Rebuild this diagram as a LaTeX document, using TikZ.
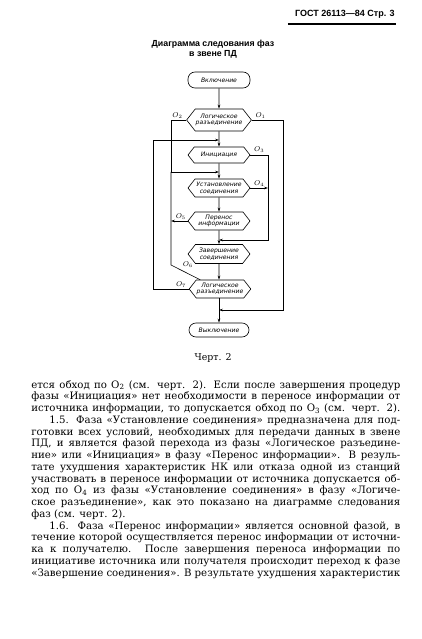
\documentclass[tikz,border=0pt]{standalone}
\usepackage{fontspec}
\setmainfont{DejaVu Serif}
\setsansfont{DejaVu Sans}
\newfontfamily\gostfont{Liberation Sans}
\usetikzlibrary{positioning,shapes.symbols,arrows.meta}

\newcommand{\dgfont}{\fontsize{6.1}{6.6}\selectfont\sffamily\itshape}
\newcommand{\jline}[1]{\makebox[369pt][s]{#1}}
\newcommand{\iline}[1]{\makebox[351pt][s]{#1}}

\tikzset{
  phase/.style={draw, signal, signal to=west and east, signal pointer angle=104,
    minimum width=62pt, inner sep=0.5pt, align=center, font=\dgfont},
  term/.style={draw, rectangle, rounded corners=7pt, minimum width=62pt,
    minimum height=16pt, inner sep=1pt, font=\dgfont},
  olabel/.style={font=\fontsize{7.4}{8}\selectfont, inner sep=0.5pt},
  bodyline/.style={anchor=base west, inner sep=0pt, font=\fontsize{10.2}{11.75}\selectfont},
  heading/.style={inner sep=0pt, font=\gostfont\bfseries\fontsize{8.8}{10}\selectfont},
}

\begin{document}
\begin{tikzpicture}[x=1pt, y=-1pt, line width=0.6pt, >={Stealth[length=4pt,width=2.6pt]}]
    \useasboundingbox (0,0) rectangle (422,639);

    % page head
    \node[heading, anchor=base east, font=\gostfont\bfseries\fontsize{9}{10}\selectfont] (gost) at (395,17) {ГОСТ 26113—84 Стр. 3};
    \draw[line width=1.5pt] ([xshift=-7pt,yshift=-7pt]gost.base west) -- ([xshift=1pt,yshift=-7pt]gost.base east);

    \node[heading] (title1) at (213,44) {Диаграмма следования фаз};
    \node[heading, below=2pt of title1] (title2) {в звене ПД};

    % phases
    \node[term] (vkl) at (219,80) {Включение};
    \node[phase, minimum height=22pt] (lr1) at (219,120) {Логическое\\разъединение};
    \node[phase, minimum height=16pt] (ini) at (219,155) {Инициация};
    \node[phase, minimum height=18pt] (ust) at (219,188) {Установление\\соединения};
    \node[phase, minimum height=18pt] (per) at (219,221) {Перенос\\информации};
    \node[phase, minimum height=19pt] (zav) at (219,254) {Завершение\\соединения};
    \node[phase, minimum height=18pt, minimum width=60pt] (lr2) at (220,289) {Логическое\\разъединение};
    \node[term, minimum height=14pt, minimum width=60pt] (vyk) at (219,330) {Выключение};

    \coordinate (j7) at (219,140);
    \coordinate (j2) at (219,172);
    \coordinate (j3) at (219,240);
    \coordinate (j1) at (219,310);
    \coordinate (xa) at (153,0);
    \coordinate (xb) at (171,0);
    \coordinate (xc) at (268,0);
    \coordinate (xd) at (283,0);
    \coordinate (k6) at (171,265);

    \draw[->] (vkl) -- (lr1);
    \draw[->] (lr1) -- (ini);
    \draw[->] (ini) -- (ust);
    \draw[->] (ust) -- (per);
    \draw[->] (per) -- (zav);
    \draw[->] (zav) -- (lr2.north -| zav);
    \draw[->] (lr2.south -| vyk) -- (vyk);

    % bypasses
    \draw[->] (lr1.east) -- (lr1.east -| xd) -- (j1 -| xd) -- (j1);
    \draw[->] (lr1.west) -- (lr1.west -| xb) -- (j2 -| xb) -- (j2);
    \draw (j2 -| xb) -- (k6) -- (lr2.155);
    \draw[->] (ini.east) -- (ini.east -| xc) -- (j3 -| xc) -- (j3);
    \draw[->] (ust.east) -- (ust.east -| xc);
    \draw[->] (per.west) -- (per.west -| xb);
    \draw[->] (lr2.west) -- (lr2.west -| xa) -- (j7 -| xa) -- (j7);

    \node[olabel, above right=0.5pt and 3pt of lr1.east] (o1) {$O_1$};
    \node[olabel, above left=0.5pt and 3pt of lr1.west] (o2) {$O_2$};
    \node[olabel, above right=2pt and 3pt of ini.east] (o3) {$O_3$};
    \node[olabel, above right=1pt and 3pt of ust.east] (o4) {$O_4$};
    \node[olabel, above left=0.5pt and 1pt of per.west] (o5) {$O_5$};
    \node[olabel, right=11pt of k6] (o6) {$O_6$};
    \node[olabel, above left=0.5pt and 2pt of lr2.west] (o7) {$O_7$};

    \node[font=\fontsize{9.4}{10}\selectfont] (cap) at (213,358) {Черт. 2};

    % text below the figure
    \node[bodyline] (b1) at (31,388) {\jline{ется обход по О\textsubscript{2} (см. черт. 2). Если после завершения процедур}};
    \node[bodyline] (b2) at (31,399.75) {\jline{фазы «Инициация» нет необходимости в переносе информации от}};
    \node[bodyline] (b3) at (31,411.5) {\jline{источника информации, то допускается обход по О\textsubscript{3} (см. черт. 2).}};
    \node[bodyline] (b4) at (49,423.25) {\iline{1.5. Фаза «Установление соединения» предназначена для под-}};
    \node[bodyline] (b5) at (31,435) {\jline{готовки всех условий, необходимых для передачи данных в звене}};
    \node[bodyline] (b6) at (31,446.75) {\jline{ПД, и является фазой перехода из фазы «Логическое разъедине-}};
    \node[bodyline] (b7) at (31,458.5) {\jline{ние» или «Инициация» в фазу «Перенос информации». В резуль-}};
    \node[bodyline] (b8) at (31,470.25) {\jline{тате ухудшения характеристик НК или отказа одной из станций}};
    \node[bodyline] (b9) at (31,482) {\jline{участвовать в переносе информации от источника допускается об-}};
    \node[bodyline] (b10) at (31,493.75) {\jline{ход по О\textsubscript{4} из фазы «Установление соединения» в фазу «Логиче-}};
    \node[bodyline] (b11) at (31,505.5) {\jline{ское разъединение», как это показано на диаграмме следования}};
    \node[bodyline] (b12) at (31,517.25) {фаз (см. черт. 2).};
    \node[bodyline] (b13) at (49,529) {\iline{1.6. Фаза «Перенос информации» является основной фазой, в}};
    \node[bodyline] (b14) at (31,540.75) {\jline{течение которой осуществляется перенос информации от источни-}};
    \node[bodyline] (b15) at (31,552.5) {\jline{ка к получателю. После завершения переноса информации по}};
    \node[bodyline] (b16) at (31,564.25) {\jline{инициативе источника или получателя происходит переход к фазе}};
    \node[bodyline] (b17) at (31,576) {\jline{«Завершение соединения». В результате ухудшения характеристик}};
\end{tikzpicture}
\end{document}
